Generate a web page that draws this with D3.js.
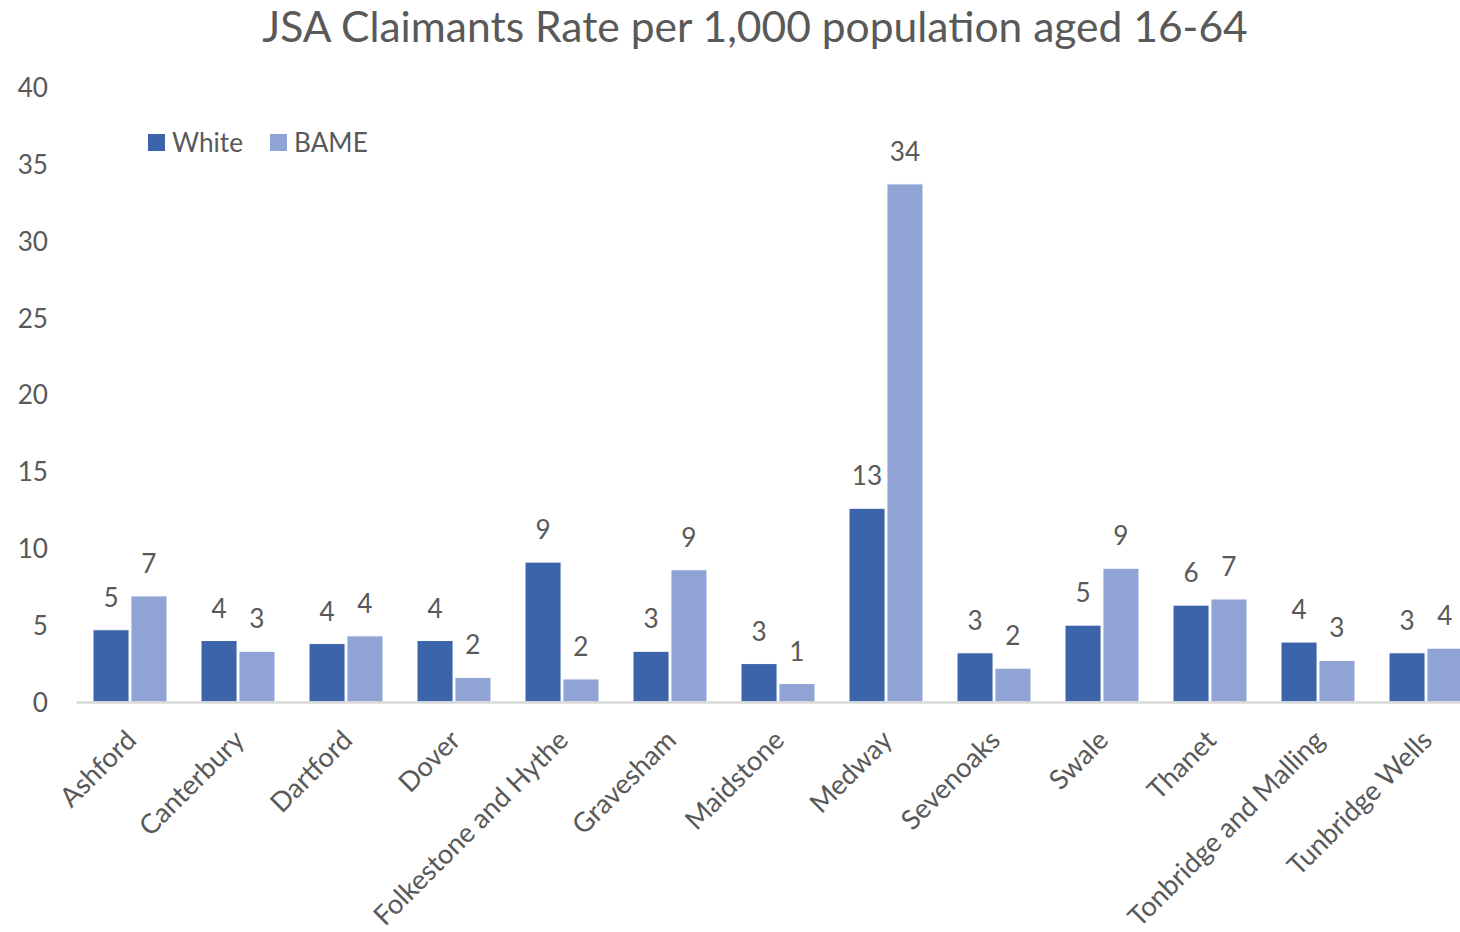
<!DOCTYPE html>
<html>
<head>
<meta charset="utf-8">
<script src="https://cdn.jsdelivr.net/npm/d3@7"></script>
<style>
  html, body { margin: 0; padding: 0; background: #fff; }
  svg text { font-family: Lato, "Open Sans", sans-serif; fill: #595959; }
</style>
</head>
<body>
<svg id="chart" width="1460" height="932"></svg>
<script>
const categories = ["Ashford", "Canterbury", "Dartford", "Dover", "Folkestone and Hythe", "Gravesham",
  "Maidstone", "Medway", "Sevenoaks", "Swale", "Thanet", "Tonbridge and Malling", "Tunbridge Wells"];
const seriesNames = ["White", "BAME"];
const whiteValues = [4.7, 4.0, 3.8, 4.0, 9.1, 3.3, 2.5, 12.6, 3.2, 5.0, 6.3, 3.9, 3.2];
const bameValues  = [6.9, 3.3, 4.3, 1.6, 1.5, 8.6, 1.2, 33.7, 2.2, 8.7, 6.7, 2.7, 3.5];
const yTicks = [0, 5, 10, 15, 20, 25, 30, 35, 40];
const titleText = "JSA Claimants Rate per 1,000 population aged 16-64";

const colors = { White: "#3C64AA", BAME: "#8FA3D4" };

const svg = d3.select("#chart");

// fit font sizes by measuring
function fitSize(text, targetWidth) {
  const t = svg.append("text").attr("font-size", 100).text(text);
  const w = t.node().getComputedTextLength();
  t.remove();
  return 100 * targetWidth / w;
}
const labelSize = fitSize("White", 71);
const titleSize = fitSize(titleText, 986);
const catSize = labelSize * 1.04;

const x0 = d3.scaleBand().domain(categories).range([76, 1480]).paddingInner(0.315).paddingOuter(0.1575);
const x1 = d3.scaleBand().domain(seriesNames).range([0, x0.bandwidth()]).paddingInner(0.05);
const y = d3.scaleLinear().domain([0, 40]).range([702, 87]);

// title
svg.append("text")
  .attr("x", 755).attr("y", 27).attr("dy", "0.36em")
  .attr("text-anchor", "middle")
  .attr("font-size", titleSize)
  .text(titleText);

// y axis labels
const yAxis = d3.axisLeft(y).tickValues(yTicks).tickSize(0).tickPadding(0);
const yg = svg.append("g").attr("transform", "translate(48,0)").call(yAxis);
yg.select(".domain").remove();
yg.selectAll("text").attr("font-size", labelSize).attr("font-family", "Lato, 'Open Sans', sans-serif")
  .attr("fill", "#595959").attr("dy", "0.36em");

// bars
const data = categories.map((c, i) => ({ cat: c, vals: [
  { key: "White", value: whiteValues[i] },
  { key: "BAME", value: bameValues[i] }
]}));

const groups = svg.append("g").selectAll("g").data(data).join("g")
  .attr("transform", d => `translate(${x0(d.cat)},0)`);

groups.selectAll("rect").data(d => d.vals).join("rect")
  .attr("x", d => x1(d.key))
  .attr("y", d => y(d.value))
  .attr("width", x1.bandwidth())
  .attr("height", d => y(0) - y(d.value))
  .attr("fill", d => colors[d.key])
  .attr("stroke", "#fff").attr("stroke-width", 1);

groups.selectAll("text.val").data(d => d.vals).join("text")
  .attr("class", "val")
  .attr("x", d => x1(d.key) + x1.bandwidth() / 2)
  .attr("y", d => y(d.value) - 23)
  .attr("text-anchor", "middle")
  .attr("font-size", labelSize)
  .text(d => Math.round(d.value));

// x axis line
const xAxis = d3.axisBottom(x0).tickSize(0).tickPadding(0);
const xg = svg.append("g").attr("transform", `translate(0,${y(0)})`).call(xAxis);
xg.select(".domain").attr("stroke", "#d9d9d9").attr("stroke-width", 2.5);
xg.selectAll(".tick text")
  .attr("font-size", catSize)
  .attr("font-family", "Lato, 'Open Sans', sans-serif")
  .attr("fill", "#595959")
  .attr("text-anchor", "end")
  .attr("dy", "0.36em")
  .attr("transform", "translate(1,33) rotate(-45)");

// legend
const legend = svg.append("g");
const legendX = { White: 148, BAME: 270 };
seriesNames.forEach(s => {
  legend.append("rect").attr("x", legendX[s]).attr("y", 134).attr("width", 17).attr("height", 17).attr("fill", colors[s]);
  legend.append("text").attr("x", legendX[s] + 24).attr("y", 142.5).attr("dy", "0.36em")
    .attr("font-size", labelSize).text(s);
});
</script>
</body>
</html>
